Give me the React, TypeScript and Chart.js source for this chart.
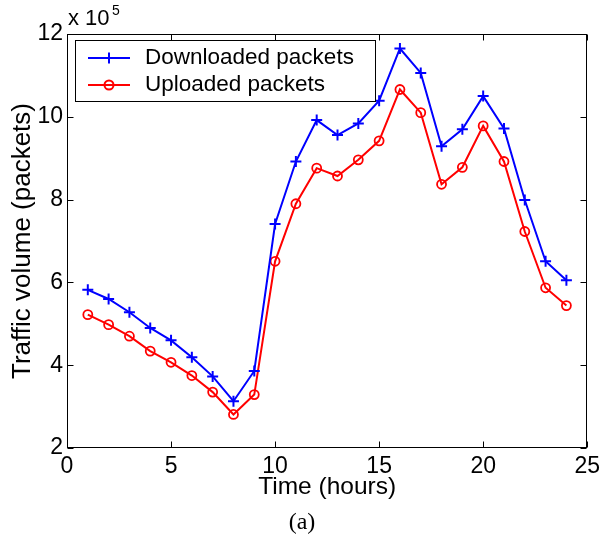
import React, { useEffect, useRef } from "react";
import { Chart, registerables } from "chart.js";

Chart.register(...registerables);

const hours = [1, 2, 3, 4, 5, 6, 7, 8, 9, 10, 11, 12, 13, 14, 15, 16, 17, 18, 19, 20, 21, 22, 23, 24];
const downloaded = [582000, 560000, 528000, 490000, 460000, 419000, 373000, 313000, 386000, 741000, 892000, 992000, 956000, 984000, 1039000, 1165000, 1106000, 929000, 970000, 1050000, 972000, 799000, 651000, 605000];
const uploaded = [522000, 498000, 470000, 434000, 407000, 375000, 335000, 281000, 329000, 651000, 790000, 876000, 857000, 896000, 942000, 1066000, 1010000, 837000, 878000, 978000, 892000, 723000, 587000, 544000];
const seriesLabels = ["Downloaded packets", "Uploaded packets"];
const xTitle = "Time (hours)";
const yTitle = "Traffic volume (packets)";
const caption = "(a)";
const BLUE = "#0000ff";
const RED = "#ff0000";

const boxPlugin = {
  id: "matlabBox",
  afterDraw(chart: any) {
    const { ctx, chartArea } = chart;
    const { left, right, top, bottom } = chartArea;
    const xs = chart.scales.x;
    const ys = chart.scales.y;
    ctx.save();
    ctx.strokeStyle = "#000";
    ctx.lineWidth = 1;
    const L = Math.round(left) + 0.5, R = Math.round(right) - 0.5, T = Math.round(top) + 0.5, B = Math.round(bottom) - 0.5;
    ctx.strokeRect(L, T, R - L, B - T);
    const tl = 6;
    ctx.beginPath();
    xs.ticks.forEach((t: any) => {
      const px = Math.round(xs.getPixelForValue(t.value)) + 0.5;
      ctx.moveTo(px, B); ctx.lineTo(px, B - tl);
      ctx.moveTo(px, T); ctx.lineTo(px, T + tl);
    });
    ys.ticks.forEach((t: any) => {
      const py = Math.round(ys.getPixelForValue(t.value)) + 0.5;
      ctx.moveTo(L, py); ctx.lineTo(L + tl, py);
      ctx.moveTo(R, py); ctx.lineTo(R - tl, py);
    });
    ctx.stroke();

    // exponent label
    ctx.fillStyle = "#000";
    ctx.textBaseline = "alphabetic";
    ctx.textAlign = "left";
    ctx.font = "22px 'Liberation Sans', Arial, sans-serif";
    ctx.fillText("x 10", 68, 25);
    ctx.font = "14px 'Liberation Sans', Arial, sans-serif";
    ctx.fillText("5", 112, 15);

    // caption
    ctx.font = "24px 'Liberation Serif', 'Times New Roman', serif";
    ctx.textAlign = "center";
    ctx.fillText(caption, 302, 529);

    // legend
    ctx.fillStyle = "#fff";
    ctx.fillRect(75.5, 40.5, 300, 61);
    ctx.strokeStyle = "#000";
    ctx.lineWidth = 1;
    ctx.strokeRect(75.5, 40.5, 300, 61);
    const rows = [
      { y: 58, color: BLUE, style: "cross", text: seriesLabels[0] },
      { y: 85, color: RED, style: "circle", text: seriesLabels[1] },
    ];
    rows.forEach((r) => {
      ctx.strokeStyle = r.color;
      ctx.lineWidth = 2;
      ctx.beginPath();
      ctx.moveTo(88, r.y); ctx.lineTo(130, r.y);
      ctx.stroke();
      const cx = 109;
      ctx.beginPath();
      if (r.style === "cross") {
        ctx.moveTo(cx - 5.5, r.y); ctx.lineTo(cx + 5.5, r.y);
        ctx.moveTo(cx, r.y - 5.5); ctx.lineTo(cx, r.y + 5.5);
      } else {
        ctx.arc(cx, r.y, 4.5, 0, Math.PI * 2);
      }
      ctx.stroke();
      ctx.fillStyle = "#000";
      ctx.textAlign = "left";
      ctx.textBaseline = "middle";
      ctx.font = "22.5px 'Liberation Sans', Arial, sans-serif";
      ctx.fillText(r.text, 145, r.y);
    });
    ctx.restore();
  },
};

export default function App() {
  const ref = useRef<HTMLCanvasElement | null>(null);
  useEffect(() => {
    if (!ref.current) return;
    const chart = new Chart(ref.current, {
      type: "line",
      data: {
        datasets: [
          {
            label: seriesLabels[0],
            data: hours.map((h, i) => ({ x: h, y: downloaded[i] })),
            borderColor: BLUE,
            backgroundColor: "rgba(0,0,0,0)",
            borderWidth: 2,
            pointStyle: "cross",
            pointRadius: 5.5,
            pointBorderWidth: 2,
            pointBorderColor: BLUE,
            tension: 0,
          },
          {
            label: seriesLabels[1],
            data: hours.map((h, i) => ({ x: h, y: uploaded[i] })),
            borderColor: RED,
            backgroundColor: "rgba(0,0,0,0)",
            borderWidth: 2,
            pointStyle: "circle",
            pointRadius: 4.5,
            pointBorderWidth: 1.8,
            pointBorderColor: RED,
            pointBackgroundColor: "rgba(0,0,0,0)",
            tension: 0,
          },
        ],
      },
      options: {
        animation: false,
        responsive: false,
        devicePixelRatio: 1,
        layout: { padding: { left: 0, top: 34, right: 13, bottom: 0 } },
        plugins: { legend: { display: false }, tooltip: { enabled: false } },
        scales: {
          x: {
            type: "linear",
            min: 0,
            max: 25,
            ticks: {
              stepSize: 5,
              padding: 5,
              color: "#000",
              maxRotation: 0,
              font: { family: "'Liberation Sans', Arial, sans-serif", size: 23, lineHeight: 1.2 },
            },
            grid: { display: false, drawTicks: false },
            border: { display: false },
            title: {
              display: true,
              text: xTitle,
              color: "#000",
              font: { family: "'Liberation Sans', Arial, sans-serif", size: 24.5, lineHeight: 1 },
              padding: { top: 0, bottom: 38 },
            },
            afterFit(scale: any) { scale.height = 89; },
          },
          y: {
            type: "linear",
            min: 200000,
            max: 1200000,
            ticks: {
              stepSize: 200000,
              padding: 4,
              color: "#000",
              callback: (v: any) => String(Math.round(Number(v) / 100000)),
              font: { family: "'Liberation Sans', Arial, sans-serif", size: 23 },
            },
            grid: { display: false, drawTicks: false },
            border: { display: false },
            title: {
              display: true,
              text: yTitle,
              color: "#000",
              font: { family: "'Liberation Sans', Arial, sans-serif", size: 26, lineHeight: 1 },
              padding: { top: 10, bottom: 0 },
            },
            afterFit(scale: any) { scale.width = 67; },
          },
        },
      },
      plugins: [boxPlugin],
    } as any);
    return () => chart.destroy();
  }, []);
  return (
    <div style={{ position: "absolute", left: 0, top: 0, width: 605, height: 537, background: "#fff" }}>
      <canvas ref={ref} width={605} height={537} style={{ width: 605, height: 537, display: "block" }} />
    </div>
  );
}
